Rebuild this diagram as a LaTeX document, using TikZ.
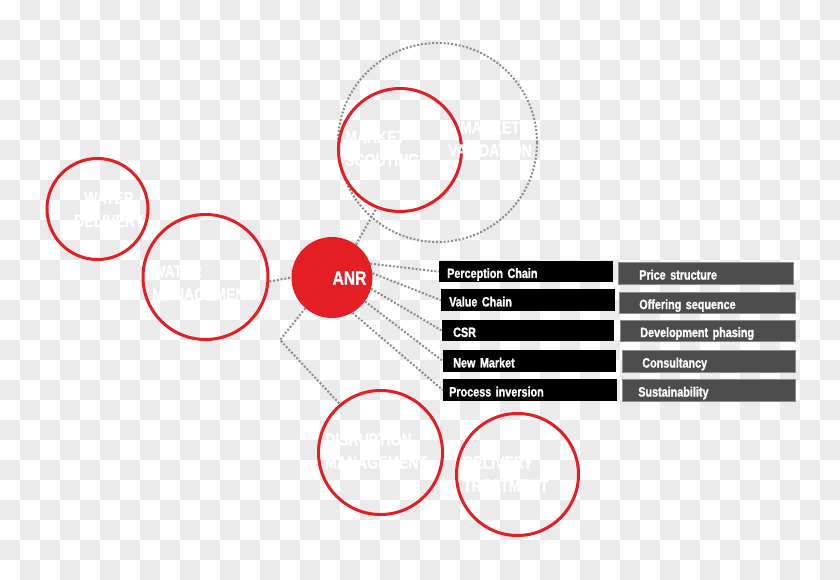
\documentclass[tikz,border=0pt]{standalone}
\usepackage{fontspec}
\newfontfamily\condfont[FakeStretch=0.8, BoldFeatures={FakeBold=1.2}]{Liberation Sans}
\definecolor{ared}{RGB}{228,30,37}
\definecolor{checker}{RGB}{235,235,235}
\definecolor{dotgray}{RGB}{140,140,140}
\definecolor{boxgray}{RGB}{77,77,77}
\definecolor{boxedge}{RGB}{140,140,140}
\pgfdeclarelayer{bg}
\pgfdeclarelayer{lines}
\pgfsetlayers{bg,lines,main}
\begin{document}
\begin{tikzpicture}[x=1pt,y=-1pt,
  ring/.style={circle, draw=ared, line width=3pt, inner sep=0pt},
  dotring/.style={circle, draw=dotgray, line width=2pt, dash pattern=on 2pt off 1.8pt, inner sep=0pt},
  conn/.style={draw=dotgray, line width=2pt, dash pattern=on 2pt off 1.8pt},
  ctext/.style={font={\condfont\bfseries\fontsize{17.5pt}{23pt}\selectfont}, text=white, inner sep=0pt},
  boxtext/.style={font={\condfont\bfseries\fontsize{13.5pt}{14pt}\selectfont}, text=white, inner xsep=0pt, inner ysep=0pt, text height=12.5pt, text depth=0pt, align=left, anchor=north west},
  blackbox/.style={boxtext, fill=black},
  graybox/.style={boxtext, fill=boxgray, draw=boxedge, line width=0.6pt}
]
\useasboundingbox (0,0) rectangle (840,579);
\begin{pgfonlayer}{bg}
  \fill[white] (0,0) rectangle (840,579);
  \foreach \j in {0,...,28}{
    \pgfmathtruncatemacro{\off}{mod(\j+1,2)*20}
    \foreach \i in {0,...,20}{
      \fill[checker] (40*\i+\off,20*\j) rectangle ++(20,20);
    }
  }
\end{pgfonlayer}

% circles
\node[dotring, minimum size=199pt] (valid) at (437.5,142.5) {};
\node[ring, minimum size=123pt] (scout) at (400,150) {};
\node[ring, minimum size=101pt] (wdel) at (97.5,209) {};
\node[ring, minimum size=125pt] (wman) at (205.5,277) {};
\node[circle, fill=ared, inner sep=0pt, minimum size=81pt] (anr) at (332,277.5) {};
\node[ring, minimum size=124pt] (disr) at (380.5,452.5) {};
\node[ring, minimum size=122pt] (dtreat) at (517.5,474.5) {};

% circle texts
\node[ctext, align=left, anchor=west] (scoutlbl) at (345,148.5) {MARKET\\SCOUTING};
\node[ctext, align=center] (validlbl) at (490,139) {MARKET\\VALIDATION};
\node[ctext, align=center] (wdellbl) at (109,209.5) {WATER\\DELIVERY};
\node[ctext, align=left, anchor=west] (wmanlbl) at (152,283) {WATER\\MANAGEMENT};
\node[ctext, align=left, anchor=west] (disrlbl) at (325,451) {DISRUPTION\\MANAGEMENT};
\node[ctext, align=left, anchor=west] (dtreatlbl) at (463,474) {DELIVERY\\TREATMENT};
\node[text=white, inner sep=0pt, font={\condfont\bfseries\fontsize{19.5pt}{21pt}\selectfont}] (anrlbl) at (349.5,278) {ANR};

% boxes
\node[blackbox, text width=174pt, minimum height=21pt] (b1) at (439,261) {\hspace*{8pt}Perception Chain};
\node[blackbox, text width=174pt, minimum height=22pt] (b2) at (441,289) {\hspace*{8pt}Value Chain};
\node[blackbox, text width=172pt, minimum height=21pt] (b3) at (442,320) {\hspace*{11pt}CSR};
\node[blackbox, text width=173pt, minimum height=22pt] (b4) at (443,350) {\hspace*{10pt}New Market};
\node[blackbox, text width=174pt, minimum height=22pt] (b5) at (443,379) {\hspace*{6pt}Process inversion};

\node[graybox, text width=175pt, minimum height=22pt] (g1) at (618,262) {\hspace*{21pt}Price structure};
\node[graybox, text width=176pt, minimum height=21pt] (g2) at (619,292) {\hspace*{20pt}Offering sequence};
\node[graybox, text width=175pt, minimum height=21pt] (g3) at (620,320) {\hspace*{20pt}Development phasing};
\node[graybox, text width=173pt, minimum height=22pt] (g4) at (622,350) {\hspace*{20pt}Consultancy};
\node[graybox, text width=173pt, minimum height=22pt] (g5) at (622,379) {\hspace*{16pt}Sustainability};

% connectors
\coordinate (bend) at (280,340);
\begin{pgfonlayer}{lines}
  \draw[conn] (anr.54) -- (scout.-112);
  \draw[conn] (wman.-4) -- (anr.180);
  \draw[conn] (anr.-131) -- (bend) -- (disr.130);
  \draw[conn] (anr.20) -- (b1.west);
  \draw[conn] (anr.6) -- (b2.west);
  \draw[conn] (anr.-16) -- (b3.west);
  \draw[conn] (anr.-36) -- (b4.west);
  \draw[conn] (anr.-60) -- (b5.west);
\end{pgfonlayer}
\end{tikzpicture}
\end{document}
